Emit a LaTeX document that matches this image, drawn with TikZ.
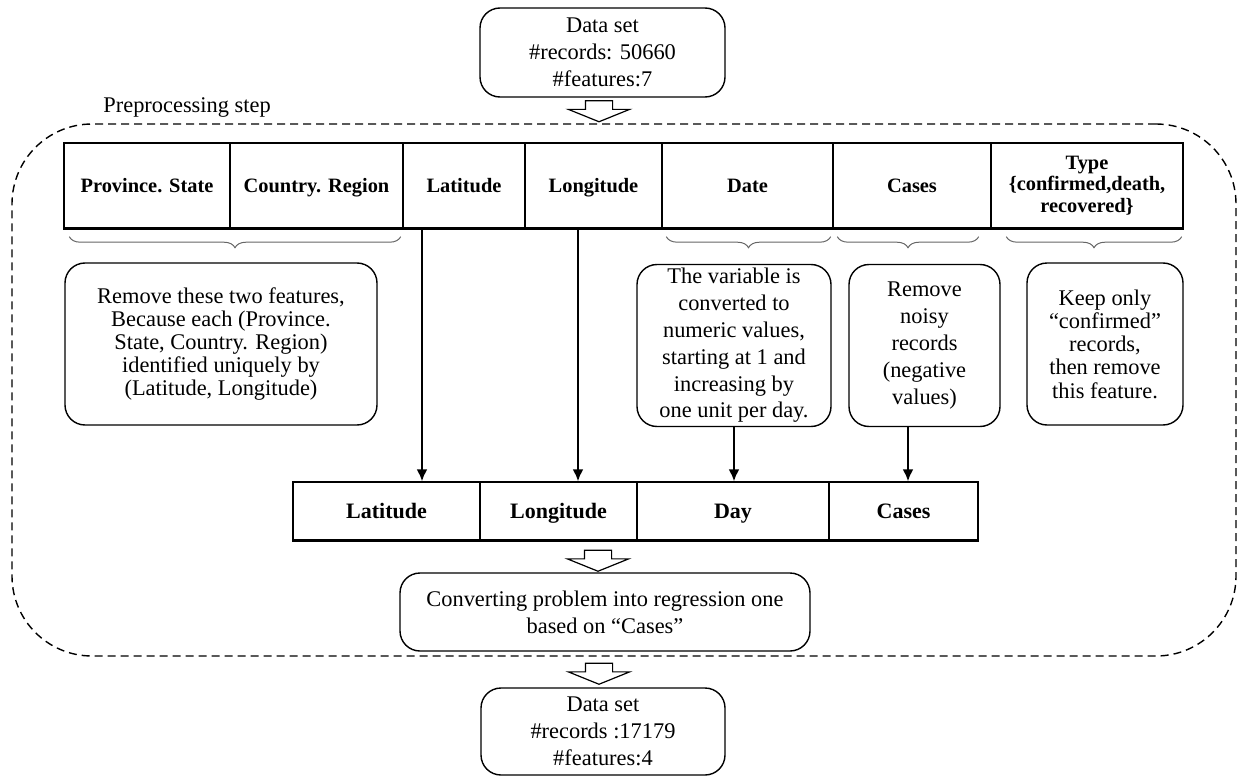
\documentclass[tikz,border=0pt]{standalone}
\usepackage{fontspec}
\setmainfont{Liberation Serif}
\usetikzlibrary{arrows.meta,shapes.arrows,decorations.pathreplacing}

\begin{document}
\begin{tikzpicture}[x=0.5pt, y=-0.5pt,
  cell/.style={draw, line width=0.7pt, inner sep=0pt, align=center, font=\fontsize{10.2}{10.8}\selectfont\bfseries, text height=8.2pt, text depth=1.2pt, minimum height=42.5pt},
  lowcell/.style={cell, font=\fontsize{11}{12}\selectfont\bfseries, minimum height=29pt},
  note/.style={draw, line width=0.7pt, rounded corners=10pt, align=center, inner sep=0pt, minimum height=81pt},
  hollow/.style={draw, line width=0.6pt, shape=single arrow, rotate=-90, inner xsep=0pt, inner ysep=6.5pt, minimum width=30pt, minimum height=10.5pt, single arrow head extend=8.5pt, single arrow tip angle=136},
  brc/.style={decorate, decoration={brace, mirror, amplitude=5.5pt}, draw=black!60, line width=0.5pt},
  flow/.style={-{Latex[length=6pt,width=5.5pt]}, line width=1pt}]
\fontsize{11.2}{13.4}\selectfont
\useasboundingbox (0,0) rectangle (1244,776);

% input data
\node[note, minimum width=122.5pt, minimum height=44.5pt] (raw) at (602.5,52.5) {Data set\\\#records: 50660\\\#features:7};
\node[hollow] (arr1) at (599,108.5) {};

% preprocessing frame
\node[draw, dashed, dash pattern=on 4pt off 2.5pt, line width=0.7pt, rounded corners=40pt, minimum width=612pt, minimum height=266pt, inner sep=0pt] (prep) at (624,390) {};
\node[anchor=west, inner sep=0pt] (preplbl) at (103,108) {Preprocessing step};

% original features
\node[cell, minimum width=83pt] (prov) at (147,185.5) {Province. State};
\node[cell, minimum width=86.5pt] (ctry) at (316.5,185.5) {Country. Region};
\node[cell, minimum width=61pt] (lat) at (464,185.5) {Latitude};
\node[cell, minimum width=68.5pt] (lon) at (593.5,185.5) {Longitude};
\node[cell, minimum width=85.5pt] (date) at (747.5,185.5) {Date};
\node[cell, minimum width=79pt] (cases) at (912,185.5) {Cases};
\node[cell, minimum width=96pt, text height={}, text depth={}] (type) at (1087,185.5) {Type\\\{confirmed,death,\\recovered\}};
\draw[line width=1.6pt] (prov.south west) -- (type.south east);

% braces
\draw[brc] ([xshift=3pt,yshift=-4pt]prov.south west) -- ([xshift=-1.5pt,yshift=-4pt]ctry.south east);
\draw[brc] ([xshift=2.5pt,yshift=-4pt]date.south west) -- ([xshift=-1.5pt,yshift=-4pt]date.south east);
\draw[brc] ([xshift=2.5pt,yshift=-4pt]cases.south west) -- ([xshift=-6.5pt,yshift=-4pt]cases.south east);
\draw[brc] ([xshift=8pt,yshift=-4pt]type.south west) -- ([xshift=-1pt,yshift=-4pt]type.south east);

% what happens to each feature
\node[note, minimum width=156pt, font=\fontsize{11.2}{11.6}\selectfont] (rmnote) at (221,344) {Remove these two features,\\Because each (Province.\\State, Country. Region)\\identified uniquely by\\(Latitude, Longitude)};
\node[note, minimum width=97pt] (datenote) at (734,345.5) {The variable is\\converted to\\numeric values,\\starting at 1 and\\increasing by\\one unit per day.};
\node[note, minimum width=75.5pt] (casesnote) at (924.5,345.5) {Remove\\noisy\\records\\(negative\\values)};
\node[note, minimum width=78pt, font=\fontsize{11.2}{11.6}\selectfont] (typenote) at (1105,344) {Keep only\\“confirmed”\\records,\\then remove\\this feature.};

% kept features
\node[lowcell, minimum width=93.5pt] (lat2) at (386.5,511) {Latitude};
\node[lowcell, minimum width=78.5pt] (lon2) at (558.5,511) {Longitude};
\node[lowcell, minimum width=96pt] (day) at (733,511) {Day};
\node[lowcell, minimum width=74.5pt] (cases2) at (903.5,511) {Cases};
\draw[line width=1.6pt] (lat2.south west) -- (cases2.south east);

\draw[flow] ([xshift=-21pt]lat.south) -- ([xshift=-21pt]lat.south |- lat2.north);
\draw[flow] ([xshift=-7.75pt]lon.south) -- ([xshift=-7.75pt]lon.south |- lon2.north);
\draw[flow] (datenote.south) -- (datenote.south |- day.north);
\draw[flow] ([xshift=-8.25pt]casesnote.south) -- ([xshift=-8.25pt]casesnote.south |- cases2.north);

\node[hollow] (arr2) at (598,558) {};
\node[note, minimum width=205pt, minimum height=39pt] (convert) at (605,612) {Converting problem into regression one\\based on “Cases”};

% output data
\node[hollow] (arr3) at (599,671) {};
\node[note, minimum width=122pt, minimum height=43.5pt] (final) at (603,731.5) {Data set\\\#records :17179\\\#features:4};
\end{tikzpicture}
\end{document}
